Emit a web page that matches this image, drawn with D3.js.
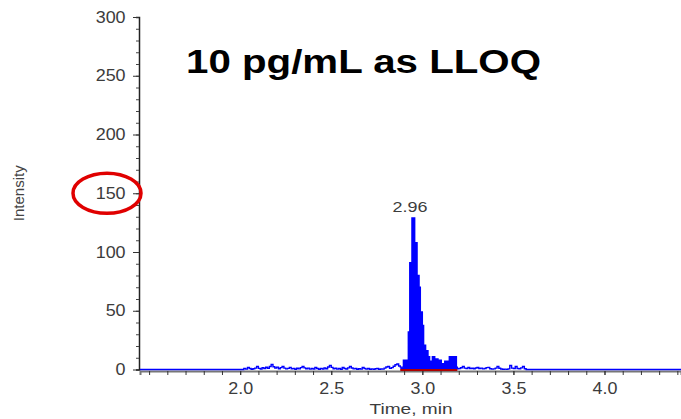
<!DOCTYPE html>
<html>
<head>
<meta charset="utf-8">
<script src="https://cdn.jsdelivr.net/npm/d3@7"></script>
<style>
  body { margin: 0; background: #fff; }
  text { font-family: "Liberation Sans", Arial, sans-serif; }
</style>
</head>
<body>
<div id="chart"></div>
<script>
const width = 681, height = 419;
const margin = { top: 17, right: 0, bottom: 49, left: 140 };

// chromatogram, [time (min), intensity]
const baselineBefore = [
  [1.45, 0], [2.01, 0], [2.02, 0.8], [2.03, 0.3], [2.04, 1.7], [2.05, 0.9], [2.06, 0.2],
  [2.07, 0.6], [2.08, 1.2], [2.09, 2.5], [2.10, 1.0], [2.11, 0.4], [2.12, 1.5], [2.13, 0.8],
  [2.14, 1.9], [2.15, 1.1], [2.16, 2.6], [2.17, 4.2], [2.18, 2.4], [2.19, 1.3], [2.20, 2.0],
  [2.21, 0.7], [2.22, 1.6], [2.23, 2.5], [2.24, 1.2], [2.25, 0.5], [2.26, 1.0], [2.27, 1.8],
  [2.28, 0.6], [2.29, 0.9], [2.30, 0.2], [2.31, 1.1], [2.32, 0.5], [2.33, 1.6], [2.34, 2.5],
  [2.35, 1.4], [2.36, 0.6], [2.37, 1.2], [2.38, 0.3], [2.39, 0.9], [2.40, 0.4], [2.41, 1.7],
  [2.42, 0.8], [2.43, 0.2], [2.44, 1.0], [2.45, 0.4], [2.46, 1.3], [2.47, 0.7], [2.48, 2.1],
  [2.49, 3.4], [2.50, 1.8], [2.51, 0.6], [2.52, 1.1], [2.53, 0.3], [2.54, 0.8], [2.55, 0.2],
  [2.56, 1.7], [2.57, 0.9], [2.58, 0.4], [2.59, 1.4], [2.60, 2.5], [2.61, 1.3], [2.62, 0.5],
  [2.63, 0.9], [2.64, 0.2], [2.65, 0.7], [2.66, 0.3], [2.67, 1.7], [2.68, 0.8], [2.69, 0.3],
  [2.70, 0.9], [2.71, 0.2], [2.72, 0.5], [2.73, 0.1], [2.74, 0.6], [2.75, 0.8], [2.76, 0.2],
  [2.77, 0.4], [2.78, 0.3], [2.79, 1.2], [2.80, 2.1], [2.81, 2.5], [2.82, 1.0], [2.83, 1.6],
  [2.84, 2.8], [2.85, 4.0], [2.86, 4.7], [2.87, 3.0]
];
const peak = [
  [2.879, 2], [2.896, 8], [2.923, 32], [2.931, 91], [2.943, 129], [2.958, 108], [2.971, 80],
  [2.982, 70], [2.989, 49], [3.000, 37.5], [3.007, 20.6], [3.018, 16], [3.031, 11], [3.040, 7],
  [3.055, 11], [3.068, 9], [3.086, 8], [3.104, 5], [3.123, 7], [3.141, 5], [3.148, 11],
  [3.187, 2]
];
const baselineAfter = [
  [3.192, 0.6], [3.20, 0.8], [3.21, 1.5], [3.22, 2.5], [3.23, 1.2], [3.24, 0.9], [3.25, 1.7],
  [3.26, 0.8], [3.27, 1.1], [3.28, 0.6], [3.29, 1.3], [3.30, 1.7], [3.31, 0.9], [3.32, 1.2],
  [3.33, 0.5], [3.34, 0.9], [3.35, 1.6], [3.36, 1.7], [3.37, 0.7], [3.38, 0.3], [3.39, 0.5],
  [3.40, 1.2], [3.41, 2.5], [3.42, 1.1], [3.43, 0.4], [3.44, 0.2], [3.45, 0.3], [3.46, 0.1],
  [3.47, 0.5], [3.48, 3.4], [3.49, 1.2], [3.50, 0.9], [3.51, 2.5], [3.52, 0.8], [3.53, 0.6],
  [3.54, 1.4], [3.55, 2.5], [3.56, 0.6], [3.57, 0], [4.42, 0]
];

const peakLabel = "2.96";
const integration = [2.879, 3.192];
const xTickValues = [2.0, 2.5, 3.0, 3.5, 4.0];
const yTickValues = [0, 50, 100, 150, 200, 250, 300];
const circledTick = 150;
const title = "10 pg/mL as LLOQ";

const trace = baselineBefore.concat(peak, baselineAfter);

const svg = d3.select("#chart").append("svg")
  .attr("width", width)
  .attr("height", height);

const x = d3.scaleLinear()
  .domain([1.45, 4.42])
  .range([margin.left, width - margin.right]);

const y = d3.scaleLinear()
  .domain([0, 300])
  .range([height - margin.bottom - 0.5, margin.top]);

// x axis (grey line, small ticks every 0.1)
const xAxisY = y(0) + 1.5;
svg.append("g")
  .attr("transform", `translate(0,${xAxisY})`)
  .call(d3.axisBottom(x).tickValues(d3.range(1.5, 4.45, 0.1)).tickSize(4).tickFormat(""))
  .call(g => g.select(".domain").attr("stroke", "#777").attr("stroke-width", 2))
  .call(g => g.selectAll(".tick line").attr("stroke", "#333"));

svg.append("g")
  .attr("transform", `translate(0,${xAxisY})`)
  .call(d3.axisBottom(x).tickValues(xTickValues).tickSize(4).tickPadding(8).tickFormat(d3.format(".1f")))
  .call(g => g.select(".domain").remove())
  .call(g => g.selectAll(".tick line").attr("stroke", "#333"))
  .call(g => g.selectAll(".tick text")
    .attr("fill", "#3c3c3c")
    .attr("font-size", 16)
    .attr("font-family", "Liberation Sans, Arial, sans-serif")
    .attr("transform", "scale(1.12,1)"));

// y axis
svg.append("g")
  .attr("transform", `translate(${margin.left - 1},0)`)
  .call(d3.axisLeft(y).tickValues(d3.range(0, 301, 10)).tickSize(3).tickFormat(""))
  .call(g => g.select(".domain").attr("stroke", "#222").attr("stroke-width", 1.5))
  .call(g => g.selectAll(".tick line").attr("stroke", "#444"));

svg.append("g")
  .attr("transform", `translate(${margin.left - 1},0)`)
  .call(d3.axisLeft(y).tickValues(yTickValues).tickSize(6).tickPadding(6))
  .call(g => g.select(".domain").remove())
  .call(g => g.selectAll(".tick line").attr("stroke", "#333"))
  .call(g => g.selectAll(".tick text")
    .attr("fill", "#3c3c3c")
    .attr("font-size", 16)
    .attr("font-family", "Liberation Sans, Arial, sans-serif")
    .attr("transform", "scale(1.12,1)"));

// filled integrated peak
const inPeak = trace.filter(d => d[0] >= integration[0] && d[0] <= integration[1]);
svg.append("path")
  .datum(inPeak)
  .attr("fill", "#0000ff")
  .attr("d", d3.area()
    .curve(d3.curveStepAfter)
    .x(d => x(d[0]))
    .y0(y(0))
    .y1(d => y(d[1])));

// trace line
svg.append("path")
  .datum(trace)
  .attr("fill", "none")
  .attr("stroke", "#0000ff")
  .attr("stroke-width", 1.4)
  .attr("d", d3.line()
    .curve(d3.curveStepAfter)
    .x(d => x(d[0]))
    .y(d => y(d[1])));

// integration baseline
svg.append("line")
  .attr("x1", x(integration[0])).attr("x2", x(integration[1]))
  .attr("y1", y(0) + 0.5).attr("y2", y(0) + 0.5)
  .attr("stroke", "#b00000")
  .attr("stroke-width", 2);

// apex label
const apex = peak.reduce((a, b) => (b[1] > a[1] ? b : a));
svg.append("text")
  .attr("x", x(apex[0]) - 2)
  .attr("y", y(apex[1]) - 6)
  .attr("text-anchor", "middle")
  .attr("font-size", 15)
  .attr("fill", "#3c3c3c")
  .attr("textLength", 35)
  .attr("lengthAdjust", "spacingAndGlyphs")
  .text(peakLabel);

// axis titles
svg.append("text")
  .attr("transform", `translate(24,${y(150)}) rotate(-90)`)
  .attr("text-anchor", "middle")
  .attr("font-size", 14)
  .attr("fill", "#444")
  .attr("textLength", 56)
  .attr("lengthAdjust", "spacingAndGlyphs")
  .text("Intensity");

svg.append("text")
  .attr("x", 411)
  .attr("y", 414)
  .attr("text-anchor", "middle")
  .attr("font-size", 14)
  .attr("fill", "#3c3c3c")
  .attr("textLength", 83)
  .attr("lengthAdjust", "spacingAndGlyphs")
  .text("Time, min");

// title
svg.append("text")
  .attr("x", 186)
  .attr("y", 73)
  .attr("font-size", 33)
  .attr("font-weight", "bold")
  .attr("fill", "#000")
  .attr("textLength", 355)
  .attr("lengthAdjust", "spacingAndGlyphs")
  .text(title);

// red circle round the 150 tick label
svg.append("ellipse")
  .attr("cx", 107)
  .attr("cy", y(circledTick))
  .attr("rx", 34)
  .attr("ry", 20)
  .attr("fill", "none")
  .attr("stroke", "#e00000")
  .attr("stroke-width", 3.5);
</script>
</body>
</html>
